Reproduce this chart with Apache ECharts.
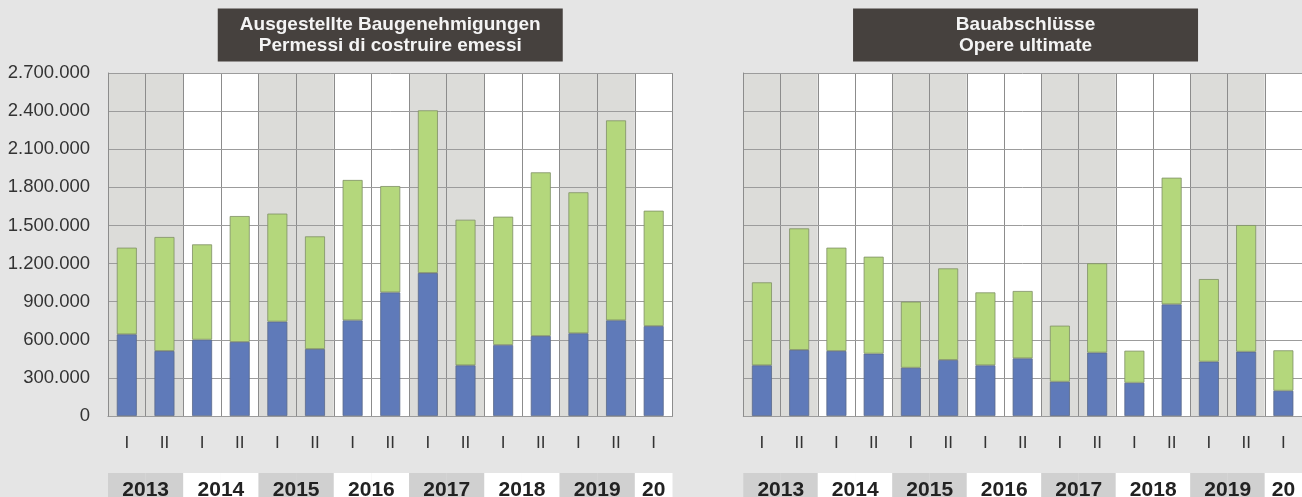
<!DOCTYPE html>
<html>
<head>
<meta charset="utf-8">
<script src="https://cdn.jsdelivr.net/npm/echarts@6/dist/echarts.min.js"></script>
<style>
html,body{margin:0;padding:0;background:#e5e5e5;}
#c{width:1302px;height:497px;}
</style>
</head>
<body>
<div id="c"></div>
<script>
// ---- data ----
const halves = ['I','II','I','II','I','II','I','II','I','II','I','II','I','II','I'];
const halfYears = ['2013','2013','2014','2014','2015','2015','2016','2016','2017','2017','2018','2018','2019','2019','2020'];
const yTicks = [0, 300000, 600000, 900000, 1200000, 1500000, 1800000, 2100000, 2400000, 2700000];

const titleLeft = 'Ausgestellte Baugenehmigungen\nPermessi di costruire emessi';
const titleRight = 'Bauabschlüsse\nOpere ultimate';

// Permits issued (left): lower (blue) and upper (green) segments
const permitsBlue  = [643000, 512000, 601000, 583000, 743000, 527000, 753000, 973000, 1126000, 399000, 559000, 630000, 651000, 753000, 708000];
const permitsGreen = [682000, 897000, 750000, 991000, 850000, 887000, 1105000, 837000, 1280000, 1146000, 1010000, 1288000, 1110000, 1574000, 908000];

// Completed works (right)
const doneBlue  = [399000, 520000, 512000, 491000, 380000, 441000, 399000, 454000, 270000, 499000, 262000, 879000, 428000, 506000, 199000];
const doneGreen = [653000, 957000, 813000, 763000, 520000, 721000, 574000, 530000, 441000, 703000, 252000, 997000, 650000, 997000, 318000];

// ---- layout / style ----
const BG = '#e5e5e5';
const COLGRAY = '#dcdcd9';
const LINE_V = '#8c8c8c';
const LINE_H = '#9c9c9c';
const BLUE = '#5f7ab9';
const GREEN = '#b4d77c';
const YEARGRAY = '#d0d0d0';
const FONT = '"Liberation Sans", Arial, sans-serif';

const plotW = 564.5, plotTop = 73, plotH = 343;
const leftX = [108, 743.3];
const colW = plotW / halves.length;

function fmt(v){ return String(v).replace(/\B(?=(\d{3})+(?!\d))/g, '.'); }

const grids = [], xAxes = [], yAxes = [], series = [], graphics = [];
const sets = [[permitsBlue, permitsGreen, titleLeft], [doneBlue, doneGreen, titleRight]];

sets.forEach((s, k) => {
  const gi = grids.length;
  grids.push({left: leftX[k], top: plotTop, width: plotW, height: plotH});
  xAxes.push({
    type: 'category', gridIndex: gi, data: halves, z: 0,
    axisLine: {show: true, lineStyle: {color: LINE_V, width: 1}},
    axisTick: {show: false},
    axisLabel: {color: '#333', fontSize: 17, fontFamily: FONT, margin: 19, interval: 0},
    splitLine: {show: true, lineStyle: {color: LINE_V, width: 1}},
    splitArea: {show: true, areaStyle: {color: [COLGRAY, COLGRAY, '#ffffff', '#ffffff']}}
  });
  yAxes.push({
    type: 'value', gridIndex: gi, min: yTicks[0], max: yTicks[yTicks.length-1], z: 1,
    interval: yTicks[1] - yTicks[0],
    axisLine: {show: true, lineStyle: {color: LINE_V, width: 1}},
    axisTick: {show: false},
    axisLabel: {show: k === 0, color: '#333', fontSize: 18.5, fontFamily: FONT, margin: 18, formatter: fmt},
    splitLine: {show: true, lineStyle: {color: LINE_H, width: 1}}
  });
  const common = {type: 'bar', xAxisIndex: gi, yAxisIndex: gi, stack: 'st' + k, barWidth: 20, z: 3};
  series.push(Object.assign({}, common, {name: 'a' + k, data: s[0],
    itemStyle: {color: BLUE, borderColor: '#5a6a8a', borderWidth: 0.8}}));
  series.push(Object.assign({}, common, {name: 'b' + k, data: s[1],
    itemStyle: {color: GREEN, borderColor: '#7f8f66', borderWidth: 0.8}}));

  // title box
  const cx = leftX[k] + plotW / 2;
  graphics.push({type: 'rect', shape: {x: cx - 172.5, y: 8.5, width: 345, height: 53}, style: {fill: '#46413e'}, z: 10});
  graphics.push({type: 'text', x: cx, y: 35.5, z: 11, style: {text: s[2], fill: '#f4f4f4',
    font: 'bold 19px ' + FONT, align: 'center', verticalAlign: 'middle', lineHeight: 21}});
});

// year rows
[0, 1].forEach(k => {
  const gi = grids.length;
  grids.push({left: leftX[k], top: 473, width: plotW, height: 32});
  xAxes.push({type: 'category', gridIndex: gi, data: halves, show: false});
  yAxes.push({type: 'value', gridIndex: gi, min: 0, max: 1, show: false});
  const uniq = [...new Set(halfYears)];
  const data = halfYears.map((y, i) => {
    const yi = uniq.indexOf(y);
    const first = i === 0 || halfYears[i-1] !== y;
    const paired = halfYears[i+1] === y;
    const lab = first ? (paired
      ? {show: true, offset: [colW / 2, 5]}
      : {show: true, offset: [0, 5], width: colW - 6, overflow: 'truncate', ellipsis: ''}) : {show: false};
    return {value: 1, itemStyle: {color: yi % 2 === 0 ? YEARGRAY : '#ffffff'}, label: lab};
  });
  series.push({type: 'bar', xAxisIndex: gi, yAxisIndex: gi, barWidth: '100%', silent: true,
    data: data,
    label: {position: 'inside', color: '#222', fontSize: 21, fontWeight: 'bold', fontFamily: FONT,
      formatter: p => halfYears[p.dataIndex]}
  });
});

const chart = echarts.init(document.getElementById('c'), null, {renderer: 'canvas'});
chart.setOption({
  backgroundColor: BG,
  animation: false,
  grid: grids, xAxis: xAxes, yAxis: yAxes, series: series,
  graphic: graphics
});
</script>
</body>
</html>
